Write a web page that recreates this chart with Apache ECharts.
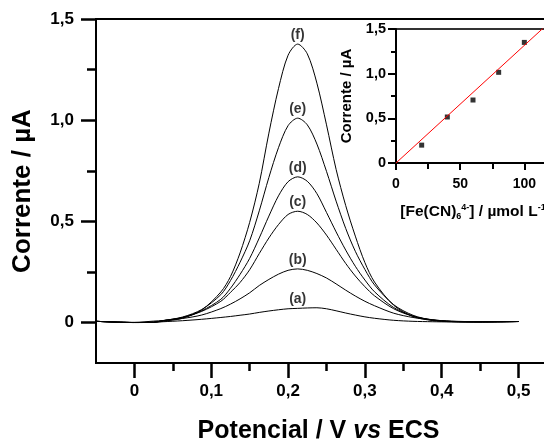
<!DOCTYPE html>
<html>
<head>
<meta charset="utf-8">
<script src="https://cdn.jsdelivr.net/npm/echarts@6/dist/echarts.min.js"></script>
<style>
html, body { margin: 0; padding: 0; background: #fff; }
#chart { width: 544px; height: 448px; }
</style>
</head>
<body>
<div id="chart"></div>
<script>
// potencial (V vs ECS)
var potencial = [-0.05, 0, 0.025, 0.0375, 0.0625, 0.0875, 0.1125, 0.125, 0.1375, 0.15, 0.1625, 0.175, 0.1875, 0.2,
    0.2125, 0.225, 0.2375, 0.25, 0.2625, 0.275, 0.2875, 0.3, 0.3125, 0.3375, 0.3625, 0.3875, 0.4125, 0.45, 0.5];

// correntes (uA), curvas (a) a (f)
var curvaA = [0.006, 0.000, 0.002, 0.004, 0.009, 0.016, 0.025, 0.030, 0.036, 0.042, 0.050, 0.057, 0.063, 0.068,
    0.070, 0.072, 0.073, 0.068, 0.058, 0.047, 0.037, 0.028, 0.021, 0.011, 0.006, 0.004, 0.003, 0.003, 0.005];
var curvaB = [0.006, 0.001, 0.007, 0.010, 0.020, 0.037, 0.069, 0.091, 0.117, 0.147, 0.183, 0.213, 0.239, 0.258,
    0.265, 0.258, 0.242, 0.220, 0.191, 0.160, 0.131, 0.105, 0.083, 0.046, 0.025, 0.013, 0.007, 0.004, 0.005];
var curvaC = [0.006, 0.000, 0.002, 0.010, 0.025, 0.055, 0.105, 0.149, 0.198, 0.261, 0.341, 0.418, 0.484, 0.534,
    0.550, 0.534, 0.492, 0.432, 0.362, 0.292, 0.230, 0.177, 0.132, 0.068, 0.031, 0.014, 0.006, 0.003, 0.005];
var curvaD = [0.006, 0.000, 0.001, 0.009, 0.024, 0.058, 0.115, 0.169, 0.238, 0.317, 0.418, 0.526, 0.626, 0.696,
    0.720, 0.698, 0.637, 0.544, 0.448, 0.358, 0.278, 0.210, 0.152, 0.074, 0.032, 0.013, 0.005, 0.003, 0.005];
var curvaE = [0.006, 0.000, 0.001, 0.009, 0.027, 0.064, 0.138, 0.207, 0.298, 0.404, 0.552, 0.717, 0.864, 0.973,
    1.010, 0.977, 0.882, 0.747, 0.600, 0.465, 0.352, 0.262, 0.186, 0.088, 0.036, 0.012, 0.005, 0.003, 0.005];
var curvaF = [0.006, 0.000, 0.001, 0.006, 0.021, 0.062, 0.151, 0.227, 0.344, 0.495, 0.688, 0.936, 1.156, 1.321,
    1.376, 1.328, 1.183, 0.977, 0.757, 0.578, 0.427, 0.296, 0.200, 0.085, 0.030, 0.010, 0.004, 0.003, 0.005];
var letras = ['(a)', '(b)', '(c)', '(d)', '(e)', '(f)'];

// inserto: curva analitica
var concentracao = [20, 40, 60, 80, 100];
var correntePico = [0.20, 0.515, 0.705, 1.015, 1.35];
var retaX = [0, 120];
var retaY = [0, 1.58];

// marcas dos eixos
var xMarcas = [0, 0.1, 0.2, 0.3, 0.4, 0.5];
var xMarcasMenores = [0.05, 0.15, 0.25, 0.35, 0.45, 0.55];
var yMarcas = [0, 0.5, 1.0, 1.5];
var yMarcasMenores = [0.25, 0.75, 1.25];
var insXMarcas = [0, 50, 100];
var insXMenores = [25, 75];
var insYMarcas = [0, 0.5, 1.0, 1.5];
var insYMenores = [0.25, 0.75, 1.25];

var fonte = "'Liberation Sans', Arial, sans-serif";

function virgula(v) {
    if (Math.abs(v) < 1e-9) return '0';
    if (Math.abs(v) >= 10) return String(Math.round(v));
    return v.toFixed(1).replace('.', ',');
}

var curvas = [curvaA, curvaB, curvaC, curvaD, curvaE, curvaF];
var iPico = potencial.indexOf(0.2125);

var series = [];
curvas.forEach(function (c) {
    series.push({
        type: 'line',
        xAxisIndex: 0, yAxisIndex: 0,
        data: potencial.map(function (x, i) { return [x, c[i]]; }),
        showSymbol: false,
        smooth: 0.3,
        lineStyle: { color: '#000', width: 1 },
        silent: true
    });
});

// letras sobre os picos
series.push({
    type: 'scatter',
    xAxisIndex: 0, yAxisIndex: 0,
    symbolSize: 0,
    data: curvas.map(function (c, k) { return [potencial[iPico], c[iPico], letras[k]]; }),
    label: {
        show: true, position: 'top', distance: 2,
        formatter: function (p) { return p.value[2]; },
        fontFamily: fonte, fontWeight: 'bold', fontSize: 14, color: '#000'
    }
});

// inserto
series.push({
    type: 'line',
    xAxisIndex: 2, yAxisIndex: 2,
    data: retaX.map(function (x, i) { return [x, retaY[i]]; }),
    showSymbol: false,
    lineStyle: { color: '#ff0000', width: 1 },
    clip: true
});
series.push({
    type: 'scatter',
    xAxisIndex: 2, yAxisIndex: 2,
    symbol: 'rect',
    symbolSize: 5,
    itemStyle: { color: '#000' },
    data: concentracao.map(function (x, i) { return [x, correntePico[i]]; })
});

var eixoPreto = { onZero: false, lineStyle: { color: '#000', width: 2 } };
var semLinha = { show: false, onZero: false };

var option = {
    animation: false,
    backgroundColor: '#fff',
    textStyle: { fontFamily: fonte },
    grid: [
        { left: 96, top: 19, width: 461, height: 344, show: true, borderColor: '#000', borderWidth: 2,
            outerBoundsMode: 'none', containLabel: false },
        { left: 396, top: 29, width: 154, height: 134, show: true, backgroundColor: '#fff', borderColor: '#333', borderWidth: 2,
            outerBoundsMode: 'none', containLabel: false }
    ],
    xAxis: [
        {
            gridIndex: 0, type: 'value', min: -0.05, max: 0.55, position: 'bottom',
            axisLine: eixoPreto,
            axisTick: { customValues: xMarcas, length: 15, lineStyle: { color: '#000', width: 2.5 } },
            axisLabel: { customValues: xMarcas, formatter: virgula, margin: 20, color: '#000',
                fontFamily: fonte, fontWeight: 'bold', fontSize: 17 },
            splitLine: { show: false },
            name: '{n|Potencial / V }{i|vs}{n| ECS}',
            nameLocation: 'middle', nameGap: 56,
            nameTextStyle: {
                padding: [0, 16, 0, 0],
                rich: {
                    n: { fontFamily: fonte, fontWeight: 'bold', fontSize: 25, color: '#000' },
                    i: { fontFamily: fonte, fontWeight: 'bold', fontStyle: 'italic', fontSize: 25, color: '#000' }
                }
            }
        },
        {
            gridIndex: 0, type: 'value', min: -0.05, max: 0.55, position: 'bottom',
            axisLine: semLinha,
            axisTick: { customValues: xMarcasMenores, length: 8, lineStyle: { color: '#000', width: 2.5 } },
            axisLabel: { show: false },
            splitLine: { show: false }
        },
        {
            gridIndex: 1, type: 'value', min: 0, max: 120, position: 'bottom',
            axisLine: eixoPreto,
            axisTick: { customValues: insXMarcas, length: 7, lineStyle: { color: '#000', width: 2 } },
            axisLabel: { customValues: insXMarcas, formatter: virgula, margin: 14, color: '#000',
                fontFamily: fonte, fontWeight: 'bold', fontSize: 14 },
            splitLine: { show: false },
            name: '{n|[Fe(CN)}{sub|6}{sup|4-}{n|] / µmol L}{sup|-1}',
            nameLocation: 'middle', nameGap: 40,
            nameTextStyle: {
                rich: {
                    n: { fontFamily: fonte, fontWeight: 'bold', fontSize: 15.5, lineHeight: 18, color: '#000' },
                    sub: { fontFamily: fonte, fontWeight: 'bold', fontSize: 9, lineHeight: 9, verticalAlign: 'bottom', color: '#000' },
                    sup: { fontFamily: fonte, fontWeight: 'bold', fontSize: 9, lineHeight: 9, verticalAlign: 'top', color: '#000' }
                }
            }
        },
        {
            gridIndex: 1, type: 'value', min: 0, max: 120, position: 'bottom',
            axisLine: semLinha,
            axisTick: { customValues: insXMenores, length: 6, lineStyle: { color: '#000', width: 2 } },
            axisLabel: { show: false },
            splitLine: { show: false }
        }
    ],
    yAxis: [
        {
            gridIndex: 0, type: 'value', min: -0.2, max: 1.5, position: 'left',
            axisLine: eixoPreto,
            axisTick: { customValues: yMarcas, length: 15, lineStyle: { color: '#000', width: 2.5 } },
            axisLabel: { customValues: yMarcas, formatter: virgula, margin: 22, color: '#000',
                fontFamily: fonte, fontWeight: 'bold', fontSize: 17 },
            splitLine: { show: false },
            name: 'Corrente / µA',
            nameLocation: 'middle', nameGap: 60,
            nameTextStyle: { fontFamily: fonte, fontWeight: 'bold', fontSize: 26, color: '#000' }
        },
        {
            gridIndex: 0, type: 'value', min: -0.2, max: 1.5, position: 'left',
            axisLine: semLinha,
            axisTick: { customValues: yMarcasMenores, length: 9, lineStyle: { color: '#000', width: 2.5 } },
            axisLabel: { show: false },
            splitLine: { show: false }
        },
        {
            gridIndex: 1, type: 'value', min: 0, max: 1.5, position: 'left',
            axisLine: eixoPreto,
            axisTick: { customValues: insYMarcas, length: 8, lineStyle: { color: '#000', width: 2 } },
            axisLabel: { customValues: insYMarcas, formatter: virgula, margin: 10, color: '#000',
                fontFamily: fonte, fontWeight: 'bold', fontSize: 14.5 },
            splitLine: { show: false },
            name: 'Corrente / µA',
            nameLocation: 'middle', nameGap: 42,
            nameTextStyle: { fontFamily: fonte, fontWeight: 'bold', fontSize: 15, color: '#000' }
        },
        {
            gridIndex: 1, type: 'value', min: 0, max: 1.5, position: 'left',
            axisLine: semLinha,
            axisTick: { customValues: insYMenores, length: 5, lineStyle: { color: '#000', width: 2 } },
            axisLabel: { show: false },
            splitLine: { show: false }
        }
    ],
    series: series
};

var myChart = echarts.init(document.getElementById('chart'));
myChart.setOption(option);
</script>
</body>
</html>
